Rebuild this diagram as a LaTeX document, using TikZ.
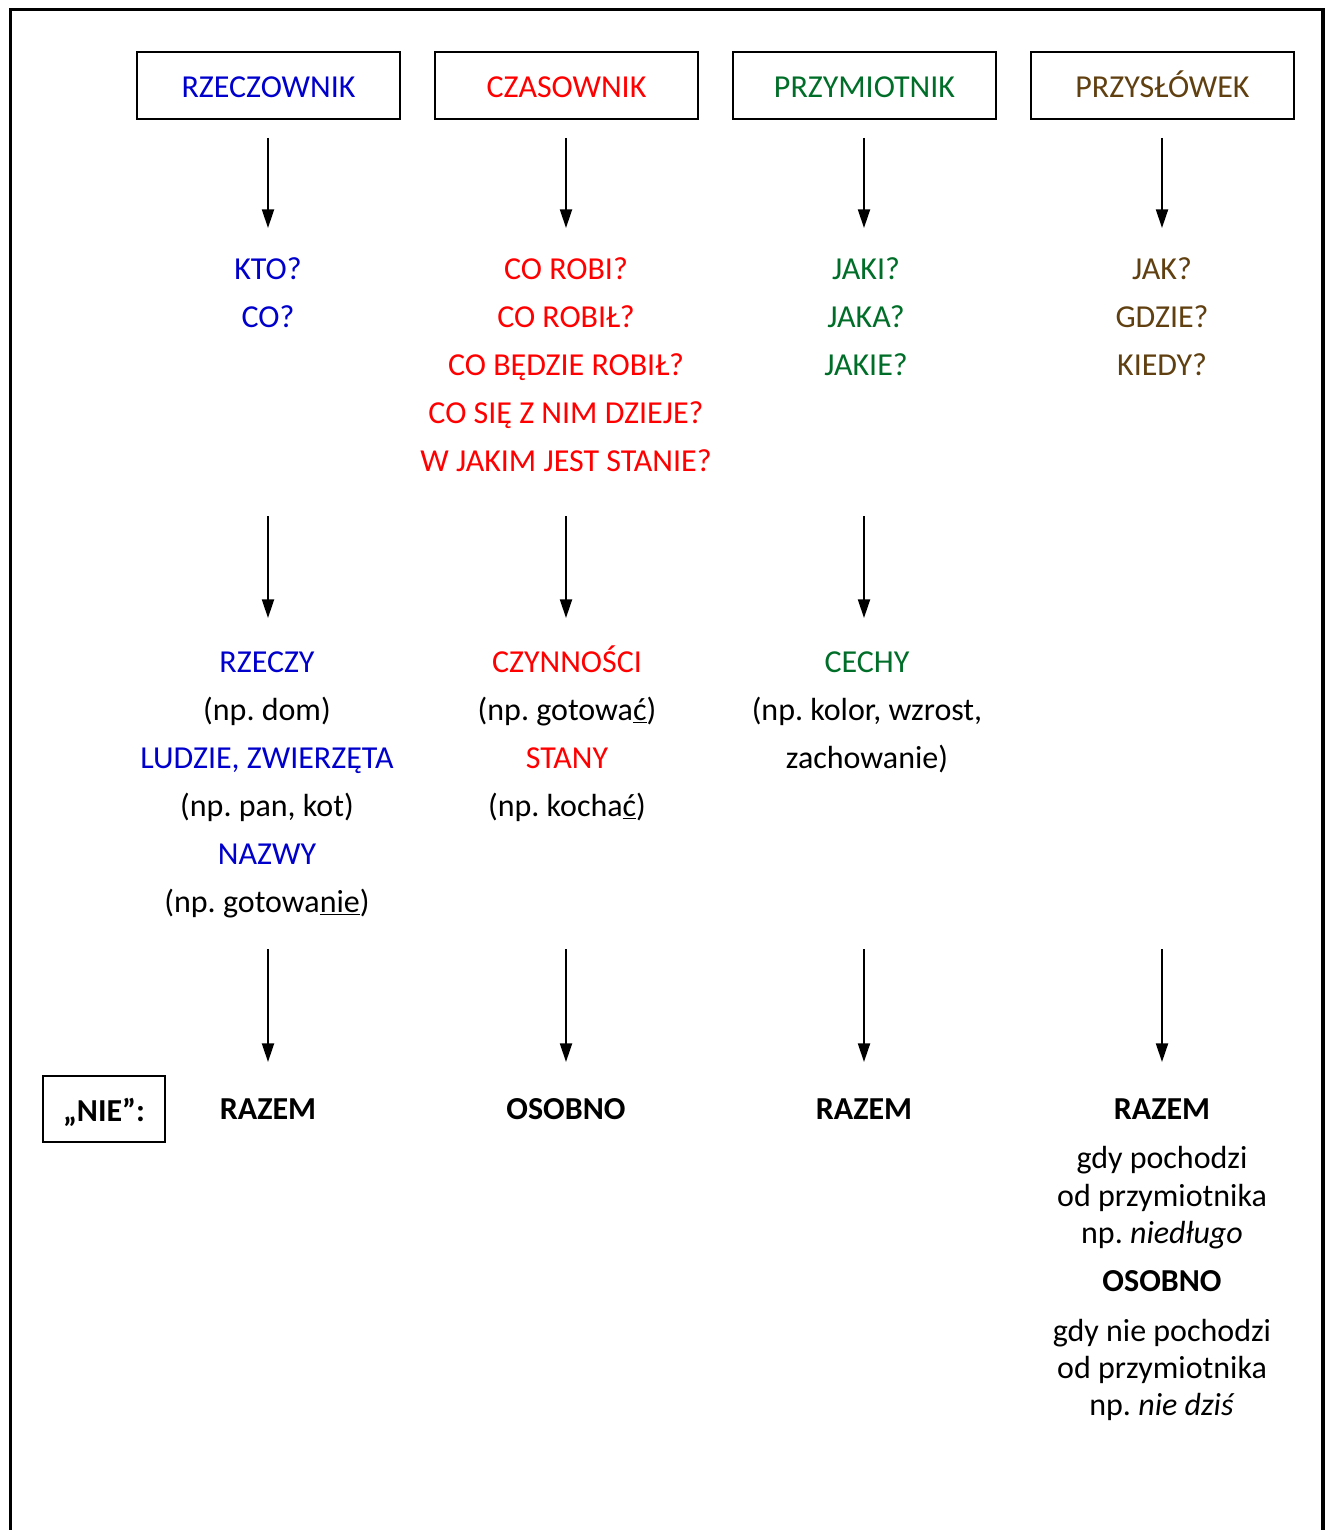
\documentclass[tikz,border=0pt]{standalone}
\usepackage{fontspec}
\setmainfont{Carlito}
\usetikzlibrary{arrows.meta}
\definecolor{cblue}{RGB}{0,0,204}
\definecolor{cred}{RGB}{255,0,0}
\definecolor{cgreen}{RGB}{0,110,40}
\definecolor{cbrown}{RGB}{96,64,16}
\newcommand\fsz{\fontsize{24}{28}\selectfont\frenchspacing}
\tikzset{
  headbox/.style={draw, line width=2.2pt, minimum width=263*0.75pt, minimum height=67*0.75pt, inner sep=0pt, text height=18.75pt, text depth=0pt, font=\fsz},
  txt/.style={anchor=base, inner sep=0pt, font=\fsz},
  btxt/.style={anchor=base, inner sep=0pt, font=\fsz\bfseries},
  arr/.style={line width=1.6pt, -{Triangle[length=14pt,width=9pt]}},
  frame/.style={line width=2.4pt}
}
\begin{document}
\begin{tikzpicture}[x=0.75pt,y=-0.75pt]
\useasboundingbox (0,0) rectangle (1325,1530);
\draw[frame] (10.5,1535) -- (10.5,9.5) -- (1323,9.5) -- (1323,1535);

% header boxes
\node[headbox, text=cblue] (h1) at (268.5,85.5) {RZECZOWNIK};
\node[headbox, text=cred] (h2) at (566.5,85.5) {CZASOWNIK};
\node[headbox, text=cgreen] (h3) at (864.5,85.5) {PRZYMIOTNIK};
\node[headbox, text=cbrown] (h4) at (1162.5,85.5) {PRZYSŁÓWEK};

% arrow coordinates
\foreach \i/\x in {1/268,2/566,3/864,4/1162}{
  \coordinate (a\i s) at (\x,138);
  \coordinate (a\i e) at (\x,228);
  \coordinate (b\i s) at (\x,516);
  \coordinate (b\i e) at (\x,618);
  \coordinate (c\i s) at (\x,949);
  \coordinate (c\i e) at (\x,1062);
}
\foreach \i in {1,2,3,4}{
  \draw[arr] (a\i s) -- (a\i e);
  \draw[arr] (c\i s) -- (c\i e);
}
\foreach \i in {1,2,3}{
  \draw[arr] (b\i s) -- (b\i e);
}

% questions
\node[txt, text=cblue] (q11) at (268,279) {KTO?};
\node[txt, text=cblue] (q12) at (268,327) {CO?};

\node[txt, text=cred] (q21) at (566,279) {CO ROBI?};
\node[txt, text=cred] (q22) at (566,327) {CO ROBIŁ?};
\node[txt, text=cred] (q23) at (566,375) {CO BĘDZIE ROBIŁ?};
\node[txt, text=cred] (q24) at (566,423) {CO SIĘ Z NIM DZIEJE?};
\node[txt, text=cred] (q25) at (566,471) {W JAKIM JEST STANIE?};

\node[txt, text=cgreen] (q31) at (866,279) {JAKI?};
\node[txt, text=cgreen] (q32) at (866,327) {JAKA?};
\node[txt, text=cgreen] (q33) at (866,375) {JAKIE?};

\node[txt, text=cbrown] (q41) at (1162,279) {JAK?};
\node[txt, text=cbrown] (q42) at (1162,327) {GDZIE?};
\node[txt, text=cbrown] (q43) at (1162,375) {KIEDY?};

% meanings
\node[txt, text=cblue] (m11) at (267,672) {RZECZY};
\node[txt] (m12) at (267,720) {(np. dom)};
\node[txt, text=cblue] (m13) at (267,768) {LUDZIE, ZWIERZĘTA};
\node[txt] (m14) at (267,816) {(np. pan, kot)};
\node[txt, text=cblue] (m15) at (267,864) {NAZWY};
\node[txt] (m16) at (267,912) {(np. gotowa\underline{nie})};

\node[txt, text=cred] (m21) at (567,672) {CZYNNOŚCI};
\node[txt] (m22) at (567,720) {(np. gotowa\underline{ć})};
\node[txt, text=cred] (m23) at (567,768) {STANY};
\node[txt] (m24) at (567,816) {(np. kocha\underline{ć})};

\node[txt, text=cgreen] (m31) at (867,672) {CECHY};
\node[txt] (m32) at (867,720) {(np. kolor, wzrost,};
\node[txt] (m33) at (867,768) {zachowanie)};

% NIE row
\node[draw, line width=2.2pt, minimum width=122*0.75pt, minimum height=66*0.75pt, inner sep=0pt, text height=18pt, text depth=0pt, font=\fsz\bfseries] (nie) at (104,1109) {„NIE”:};
\node[btxt] (r1) at (268,1119) {RAZEM};
\node[btxt] (r2) at (566,1119) {OSOBNO};
\node[btxt] (r3) at (864,1119) {RAZEM};
\node[btxt] (r4) at (1162,1119) {RAZEM};

\node[txt] (d1) at (1162,1168) {gdy pochodzi};
\node[txt] (d2) at (1162,1206) {od przymiotnika};
\node[txt] (d3) at (1162,1243) {np. \textit{niedługo}};
\node[btxt] (d4) at (1162,1291) {OSOBNO};
\node[txt] (d5) at (1162,1341) {gdy nie pochodzi};
\node[txt] (d6) at (1162,1378) {od przymiotnika};
\node[txt] (d7) at (1162,1415) {np. \textit{nie dziś}};
\end{tikzpicture}
\end{document}
